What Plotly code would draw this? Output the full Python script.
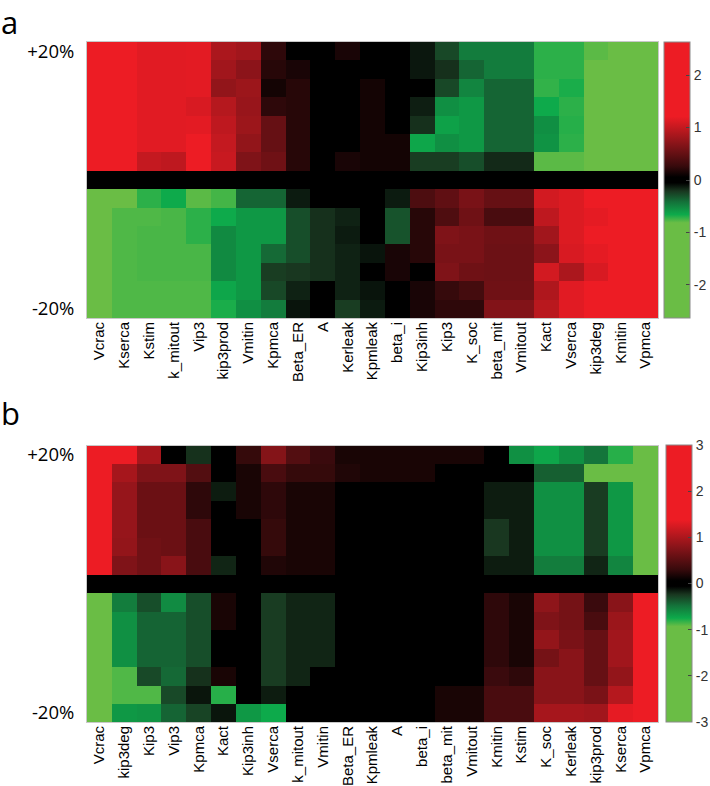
import plotly.graph_objects as go

# ---------------- data ----------------
params_a = ["Vcrac", "Kserca", "Kstim", "k_mitout", "Vip3", "kip3prod", "Vmitin", "Kpmca",
            "Beta_ER", "A", "Kerleak", "Kpmleak", "beta_i", "Kip3inh", "Kip3", "K_soc",
            "beta_mit", "Vmitout", "Kact", "Vserca", "kip3deg", "Kmitin", "Vpmca"]

params_b = ["Vcrac", "kip3deg", "Kip3", "Vip3", "Kpmca", "Kact", "Kip3inh", "Vserca",
            "k_mitout", "Vmitin", "Beta_ER", "Kpmleak", "A", "beta_i", "beta_mit", "Vmitout",
            "Kmitin", "Kstim", "K_soc", "Kerleak", "kip3prod", "Kserca", "Vpmca"]

# rows: +20% (top) ... 0 ... -20% (bottom)
values_a = [
    [2.6, 2.3, 1.15, 1.15, 1.16, 0.87, 0.82, 0.23, 0.0, 0.0, 0.15, 0.0, 0.0, -0.12, -0.27, -0.46, -0.46, -0.46, -0.71, -0.71, -0.79, -0.95, -1.2],
    [2.55, 2.25, 1.15, 1.15, 1.16, 0.82, 0.71, 0.2, 0.15, 0.0, 0.0, 0.0, 0.0, -0.12, -0.19, -0.37, -0.46, -0.46, -0.71, -0.71, -0.85, -0.95, -1.2],
    [2.5, 2.2, 1.15, 1.15, 1.16, 0.74, 0.79, 0.13, 0.2, 0.0, 0.0, 0.13, 0.0, 0.0, -0.27, -0.5, -0.37, -0.37, -0.72, -0.68, -0.85, -0.95, -1.2],
    [2.45, 2.15, 1.15, 1.15, 1.1, 0.92, 0.77, 0.23, 0.2, 0.0, 0.0, 0.13, 0.0, -0.14, -0.54, -0.58, -0.37, -0.37, -0.66, -0.71, -0.85, -0.95, -1.2],
    [2.4, 2.1, 1.15, 1.15, 1.16, 0.97, 0.79, 0.51, 0.2, 0.0, 0.0, 0.13, 0.0, -0.19, -0.62, -0.58, -0.37, -0.37, -0.54, -0.7, -0.85, -0.95, -1.2],
    [2.35, 2.05, 1.15, 1.15, 1.4, 1.0, 0.74, 0.51, 0.2, 0.0, 0.0, 0.13, 0.13, -0.64, -0.54, -0.58, -0.37, -0.37, -0.56, -0.71, -0.85, -0.95, -1.2],
    [2.3, 2.0, 1.0, 0.97, 1.4, 1.02, 0.64, 0.56, 0.2, 0.0, 0.15, 0.13, 0.13, -0.23, -0.23, -0.29, -0.17, -0.17, -0.79, -0.79, -0.85, -0.9, -1.1],
    [0.0] * 23,
    [-1.6, -0.85, -0.71, -0.66, -0.79, -0.75, -0.37, -0.37, -0.13, 0.0, 0.0, 0.0, -0.13, 0.38, 0.48, 0.61, 0.51, 0.51, 1.07, 1.12, 1.3, 1.8, 2.2],
    [-1.6, -0.77, -0.77, -0.76, -0.71, -0.66, -0.58, -0.58, -0.29, -0.19, -0.15, 0.0, -0.31, 0.2, 0.39, 0.56, 0.36, 0.36, 0.97, 1.12, 1.17, 1.8, 2.2],
    [-1.6, -0.77, -0.76, -0.76, -0.71, -0.52, -0.58, -0.58, -0.29, -0.19, -0.13, 0.0, -0.31, 0.2, 0.64, 0.61, 0.56, 0.56, 0.82, 1.12, 1.25, 1.8, 2.2],
    [-1.6, -0.77, -0.76, -0.76, -0.76, -0.52, -0.58, -0.39, -0.29, -0.19, -0.15, -0.11, 0.15, 0.2, 0.61, 0.61, 0.54, 0.54, 0.71, 1.1, 1.17, 1.8, 2.2],
    [-1.6, -0.77, -0.76, -0.76, -0.76, -0.52, -0.58, -0.23, -0.21, -0.19, -0.15, 0.0, 0.15, 0.0, 0.64, 0.56, 0.54, 0.54, 1.07, 0.87, 1.1, 1.8, 2.2],
    [-1.6, -0.77, -0.77, -0.77, -0.77, -0.64, -0.58, -0.27, -0.15, 0.0, -0.15, -0.11, 0.0, 0.15, 0.26, 0.33, 0.56, 0.56, 0.89, 1.15, 1.25, 1.8, 2.2],
    [-1.6, -0.77, -0.77, -0.77, -0.77, -0.68, -0.54, -0.46, -0.11, 0.0, -0.23, -0.13, 0.0, 0.15, 0.23, 0.23, 0.66, 0.66, 0.94, 1.15, 1.25, 1.8, 2.2],
]

values_b = [
    [3.0, 2.0, 0.96, 0.0, -0.22, 0.0, 0.29, 0.76, 0.47, 0.32, 0.17, 0.17, 0.17, 0.17, 0.17, 0.17, 0.0, -0.62, -0.73, -0.62, -0.49, -0.8, -2.0],
    [2.9, 0.96, 0.73, 0.73, 0.47, 0.0, 0.17, 0.41, 0.29, 0.29, 0.2, 0.17, 0.17, 0.17, 0.0, 0.0, 0.0, 0.0, -0.4, -0.4, -0.95, -0.95, -2.0],
    [2.8, 0.87, 0.61, 0.61, 0.26, -0.15, 0.17, 0.26, 0.17, 0.17, 0.0, 0.0, 0.0, 0.0, 0.0, 0.0, -0.15, -0.15, -0.62, -0.62, -0.26, -0.66, -2.0],
    [2.7, 0.87, 0.61, 0.61, 0.26, 0.0, 0.17, 0.26, 0.17, 0.17, 0.0, 0.0, 0.0, 0.0, 0.0, 0.0, -0.15, -0.15, -0.62, -0.62, -0.26, -0.66, -2.0],
    [2.6, 0.87, 0.61, 0.61, 0.41, 0.0, 0.0, 0.29, 0.17, 0.17, 0.0, 0.0, 0.0, 0.0, 0.0, 0.0, -0.24, -0.15, -0.62, -0.62, -0.26, -0.66, -2.0],
    [2.5, 0.85, 0.64, 0.61, 0.41, 0.0, 0.0, 0.29, 0.17, 0.17, 0.0, 0.0, 0.0, 0.0, 0.0, 0.0, -0.24, -0.15, -0.62, -0.62, -0.26, -0.66, -2.0],
    [2.4, 0.73, 0.64, 0.79, 0.41, -0.18, 0.0, 0.2, 0.17, 0.17, 0.0, 0.0, 0.0, 0.0, 0.0, 0.0, -0.15, -0.15, -0.53, -0.53, -0.18, -0.57, -2.0],
    [0.0] * 23,
    [-2.0, -0.53, -0.33, -0.6, -0.33, 0.17, 0.0, -0.26, -0.18, -0.18, 0.0, 0.0, 0.0, 0.0, 0.0, 0.0, 0.26, 0.17, 0.82, 0.67, 0.32, 0.79, 3.0],
    [-2.0, -0.62, -0.42, -0.42, -0.33, 0.17, 0.0, -0.26, -0.18, -0.18, 0.0, 0.0, 0.0, 0.0, 0.0, 0.0, 0.26, 0.17, 0.73, 0.67, 0.41, 0.9, 3.0],
    [-2.0, -0.62, -0.42, -0.42, -0.33, 0.0, 0.0, -0.26, -0.18, -0.18, 0.0, 0.0, 0.0, 0.0, 0.0, 0.0, 0.26, 0.17, 0.85, 0.7, 0.58, 0.93, 3.0],
    [-2.0, -0.62, -0.42, -0.42, -0.33, 0.0, 0.0, -0.26, -0.18, -0.18, 0.0, 0.0, 0.0, 0.0, 0.0, 0.0, 0.26, 0.17, 0.67, 0.79, 0.58, 0.93, 3.0],
    [-2.0, -0.88, -0.31, -0.44, -0.22, 0.17, 0.0, -0.26, -0.18, 0.0, 0.0, 0.0, 0.0, 0.0, 0.0, 0.0, 0.32, 0.26, 0.79, 0.79, 0.58, 0.85, 3.0],
    [-2.0, -0.88, -0.88, -0.31, -0.13, -0.8, 0.0, -0.15, 0.0, 0.0, 0.0, 0.0, 0.0, 0.0, 0.17, 0.17, 0.41, 0.41, 0.79, 0.79, 0.7, 1.05, 3.0],
    [-2.0, -0.66, -0.64, -0.42, -0.29, -0.13, -0.66, -0.75, 0.0, 0.0, 0.0, 0.0, 0.0, 0.0, 0.17, 0.17, 0.41, 0.41, 0.96, 0.96, 0.93, 1.34, 3.0],
]

row_tick_labels = ["+20%", "-20%"]
cbar_ticks_a = [-2, -1, 0, 1, 2]
cbar_ticks_b = [-3, -2, -1, 0, 1, 2, 3]
zlim_a = 2.63
zlim_b = 3.0
panel_labels = ["a", "b"]

# ---------------- styling ----------------
colorscale = [
    [0.0, "rgb(106,189,69)"],
    [0.345, "rgb(106,189,69)"],
    [0.375, "rgb(13,170,75)"],
    [0.42, "rgb(20,115,58)"],
    [0.46, "rgb(25,55,32)"],
    [0.49, "rgb(0,0,0)"],
    [0.51, "rgb(0,0,0)"],
    [0.55, "rgb(55,10,12)"],
    [0.63, "rgb(135,20,25)"],
    [0.73, "rgb(237,28,36)"],
    [1.0, "rgb(237,28,36)"],
]

W, H = 710, 786
L, R, T, B = 87, 52, 42, 64
pw, ph = W - L - R, H - T - B


def py(Y):
    return (H - B - Y) / ph


def px(X):
    return (X - L) / pw


rows = list(range(len(values_a)))
n_rows = len(rows)

axis_font = dict(family="Arial, Liberation Sans, sans-serif", size=15, color="#000")
cb_font = dict(family="Arial, Liberation Sans, sans-serif", size=14, color="#333")
lab_font = dict(family="Open Sans, sans-serif", size=18.5, color="#000")
letter_font = dict(family="Open Sans, sans-serif", size=31, color="#000")


def colorbar(ticks, x_left, y_bottom, y_top):
    return dict(thickness=26, thicknessmode="pixels", len=py(y_top) - py(y_bottom), lenmode="fraction",
                x=px(x_left), xanchor="left", xpad=0, y=py(y_bottom), yanchor="bottom", ypad=0,
                outlinewidth=1, outlinecolor="#8a8a8a", tickmode="array", tickvals=ticks,
                ticktext=[str(t) for t in ticks],
                ticks="inside", ticklen=4, tickcolor="#444", tickfont=cb_font)


fig = go.Figure()

fig.add_trace(go.Heatmap(
    z=values_a, x=params_a, y=rows, xaxis="x", yaxis="y",
    colorscale=colorscale, zmin=-zlim_a, zmax=zlim_a,
    colorbar=colorbar(cbar_ticks_a, 664, 318, 42),
))

fig.add_trace(go.Heatmap(
    z=values_b, x=params_b, y=rows, xaxis="x2", yaxis="y2",
    colorscale=colorscale, zmin=-zlim_b, zmax=zlim_b,
    colorbar=colorbar(cbar_ticks_b, 666, 722, 445.5),
))

xcommon = dict(tickangle=-90, tickfont=axis_font, ticks="", showgrid=False, zeroline=False,
               showline=True, linecolor="#c8c8c8", linewidth=1, mirror=True,
               ticklabelstandoff=-3, domain=[0, 1], automargin=False)
ycommon = dict(tickvals=[rows[0], rows[-1]], ticktext=row_tick_labels, tickfont=lab_font,
               ticks="", showgrid=False, zeroline=False, range=[n_rows - 0.5, -0.5],
               showline=True, linecolor="#c8c8c8", linewidth=1, mirror=True,
               ticklabelstandoff=8, automargin=False)

fig.update_layout(
    width=W, height=H,
    margin=dict(l=L, r=R, t=T, b=B, autoexpand=False),
    paper_bgcolor="white", plot_bgcolor="white",
    xaxis=dict(anchor="y", **xcommon),
    xaxis2=dict(anchor="y2", **xcommon),
    yaxis=dict(anchor="x", domain=[py(318), py(42)], **ycommon),
    yaxis2=dict(anchor="x2", domain=[py(722), py(445.5)], **ycommon),
    annotations=[
        dict(text=panel_labels[0], xref="paper", yref="paper", x=px(0), y=py(0),
             xanchor="left", yanchor="top", showarrow=False, borderpad=0, font=letter_font),
        dict(text=panel_labels[1], xref="paper", yref="paper", x=px(0), y=py(391),
             xanchor="left", yanchor="top", showarrow=False, borderpad=0, font=letter_font),
    ],
)

fig.write_html("out.html", config={"displayModeBar": False},
               post_script="document.body.style.margin='0';")
